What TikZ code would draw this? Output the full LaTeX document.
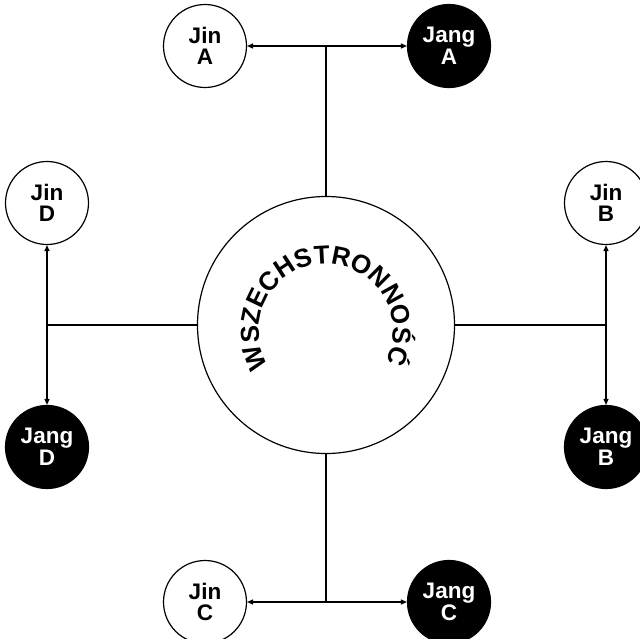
\documentclass[tikz,border=0pt]{standalone}
\usepackage{fontspec}
\setmainfont{Liberation Sans}
\usetikzlibrary{arrows.meta,decorations.text}
\begin{document}
\begin{tikzpicture}[x=1pt,y=1pt,
  jin/.style={circle,draw=black,line width=1.2pt,fill=white,minimum size=83pt,inner sep=0pt,
    font=\bfseries\fontsize{22.5}{21.5}\selectfont,align=center,text=black},
  jang/.style={jin,fill=black,text=white},
  hub/.style={circle,draw=black,line width=1.2pt,minimum size=257pt,inner sep=0pt},
  link/.style={line width=1.2pt},
  dbl/.style={link,{Triangle[length=6pt,width=5pt]}-{Triangle[length=6pt,width=5pt]}}]
\useasboundingbox (0,-638) rectangle (640,0);
\node[hub] (hub) at (326,-325) {};
\node[jin]  (jinA)  at (205,-46)  {Jin\\A};
\node[jang] (jangA) at (449,-46)  {Jang\\A};
\node[jin]  (jinC)  at (205,-602) {Jin\\C};
\node[jang] (jangC) at (449,-602) {Jang\\C};
\node[jin]  (jinD)  at (47,-203)  {Jin\\D};
\node[jang] (jangD) at (47,-447)  {Jang\\D};
\node[jin]  (jinB)  at (606,-203) {Jin\\B};
\node[jang] (jangB) at (606,-447) {Jang\\B};
\draw[dbl] (jinA) -- (jangA);
\draw[link] (hub.north) -- (hub.north |- jinA);
\draw[dbl] (jinC) -- (jangC);
\draw[link] (hub.south) -- (hub.south |- jinC);
\draw[dbl] (jinD) -- (jangD);
\draw[link] (hub.west) -- (hub.west -| jinD);
\draw[dbl] (jinB) -- (jangB);
\draw[link] (hub.east) -- (hub.east -| jinB);
\path[decorate, decoration={text along path, text align=center,
  text={|\bfseries\fontsize{26}{26}\selectfont|WSZECHSTRONNOŚĆ}}]
  (326,-331) ++(220:67) arc[start angle=220, end angle=-36, radius=67];
\end{tikzpicture}
\end{document}
